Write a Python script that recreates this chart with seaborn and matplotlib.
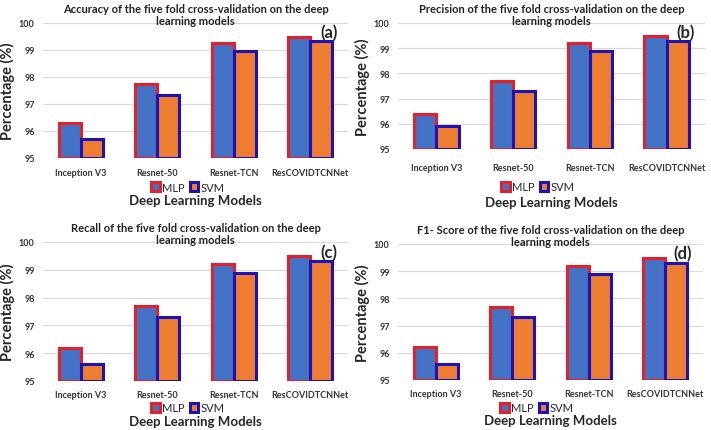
import numpy as np
import pandas as pd
import matplotlib
matplotlib.use("Agg")
import matplotlib.pyplot as plt
import seaborn as sns
from matplotlib.patches import Patch

models = ["Inception V3", "Resnet-50", "Resnet-TCN", "ResCOVIDTCNNet"]
classifiers = ["MLP", "SVM"]

acc_mlp = [96.3, 97.75, 99.25, 99.5]
acc_svm = [95.7, 97.35, 98.95, 99.35]
prec_mlp = [96.4, 97.7, 99.2, 99.5]
prec_svm = [95.9, 97.3, 98.9, 99.3]
rec_mlp = [96.2, 97.7, 99.2, 99.5]
rec_svm = [95.6, 97.3, 98.9, 99.3]
f1_mlp = [96.2, 97.7, 99.2, 99.5]
f1_svm = [95.6, 97.3, 98.9, 99.3]

titles = [
    "Accuracy of the five fold cross-validation on the deep\nlearning models",
    "Precision of the five fold cross-validation on the deep\nlearning models",
    "Recall of the five fold cross-validation on the deep\nlearning models",
    "F1- Score of the five fold cross-validation on the deep\nlearning models",
]
panel_tags = ["(a)", "(b)", "(c)", "(d)"]
panels = [(acc_mlp, acc_svm), (prec_mlp, prec_svm), (rec_mlp, rec_svm), (f1_mlp, f1_svm)]

fill_colors = {"MLP": "#4472C4", "SVM": "#ED7D31"}
edge_colors = {"MLP": "#E3212B", "SVM": "#1E12B4"}

sns.set_style("white")
plt.rcParams["font.family"] = ["Lato", "DejaVu Sans"]

W, H = 711, 431
fig = plt.figure(figsize=(W / 100, H / 100), dpi=100)

# layout in pixels: axes box (left, top, right, bottom), tick pad, legend (x, y), xlabel y
layout = [
    ((43, 24, 348, 159), 7.0, (188, 188), 201),
    ((398, 24, 705, 150), 10.0, (538, 188), 203),
    ((43, 243, 348, 382), 6.5, (188, 409), 422),
    ((398, 245, 703, 381), 6.5, (537, 409), 421),
]

for (mlp, svm), title, tag, ((l, t, r, b), tpad, (lx, ly), xly) in zip(panels, titles, panel_tags, layout):
    ax = fig.add_axes([l / W, 1 - b / H, (r - l) / W, (b - t) / H])
    df = pd.DataFrame({
        "model": models * 2,
        "clf": ["MLP"] * 4 + ["SVM"] * 4,
        "value": mlp + svm,
    })
    sns.barplot(data=df, x="model", y="value", hue="clf", hue_order=classifiers,
                palette=fill_colors, saturation=1, width=0.58, ax=ax, legend=False, zorder=3)
    base = 95
    for i, p in enumerate(ax.patches):
        clf = classifiers[i // len(models)]
        h = p.get_height()
        p.set_y(base)
        p.set_height(h - base)
        p.set_edgecolor(edge_colors[clf])
        p.set_linewidth(2.2)
    ax.set_ylim(95, 100)
    ax.set_yticks([95, 96, 97, 98, 99, 100])
    ax.yaxis.grid(True, color="#D9D9D9", linewidth=0.8, zorder=0)
    ax.set_axisbelow(True)
    sns.despine(ax=ax, left=True, bottom=True, top=True, right=True)
    ax.tick_params(axis="x", length=0, labelsize=6.5, pad=tpad)
    ax.tick_params(axis="y", length=0, labelsize=6.5, pad=6)
    for lab in ax.get_xticklabels() + ax.get_yticklabels():
        lab.set_fontweight("bold")
        lab.set_color("#333333")
    ax.set_xlabel("Deep Learning Models", fontsize=9.5, fontweight="bold", va="center")
    ax.xaxis.set_label_coords(0.5, (b - xly) / (b - t))
    ax.set_ylabel("Percentage (%)", fontsize=10.5, fontweight="bold", labelpad=3)
    ax.set_title(title, fontsize=8, fontweight="bold", color="#222222", pad=-1, linespacing=1.15)
    ax.text(0.965, 0.93, tag, transform=ax.transAxes, ha="right", va="center",
            fontsize=12, fontweight="bold")
    handles = [Patch(facecolor=fill_colors[c], edgecolor=edge_colors[c], linewidth=2.2, label=c)
               for c in classifiers]
    ax.legend(handles=handles, loc="center",
              bbox_to_anchor=((lx - l) / (r - l), (b - ly) / (b - t)), ncol=2,
              frameon=False, fontsize=8, handlelength=0.8, handleheight=0.8,
              handletextpad=0.2, columnspacing=0.4, borderpad=0)

fig.savefig("out.png", dpi=100)
